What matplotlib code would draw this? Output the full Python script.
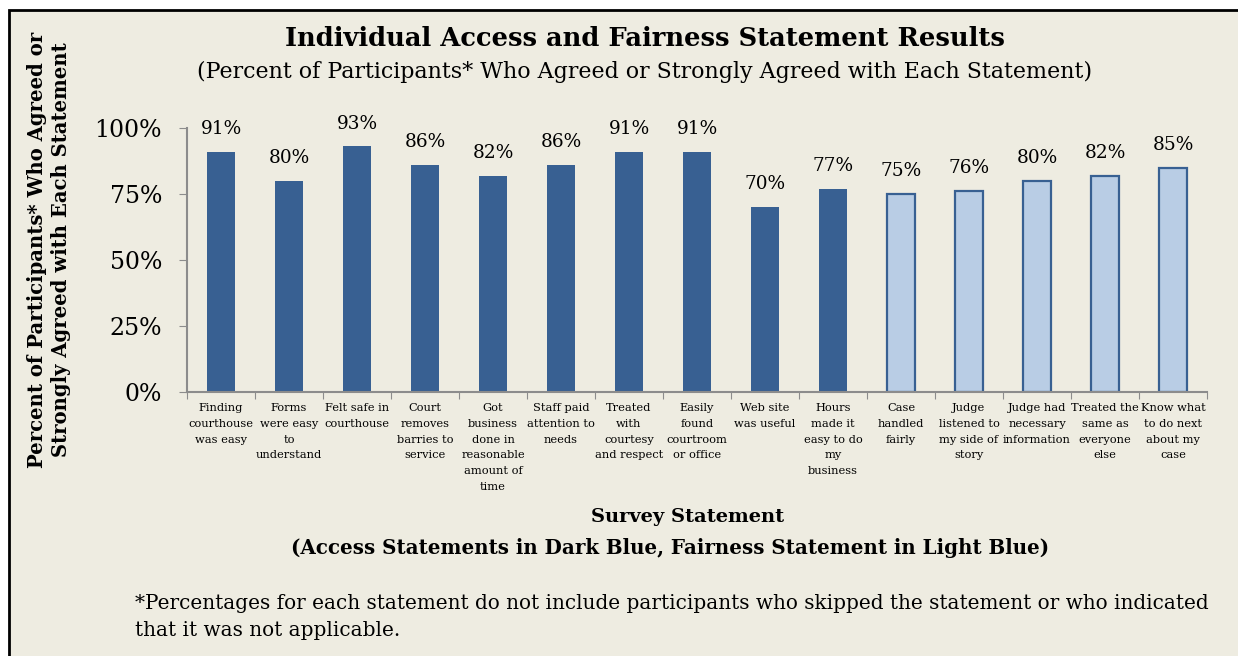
import matplotlib.pyplot as plt
from matplotlib.patches import Rectangle

# --- data --- #
statements = [
    "Finding\ncourthouse\nwas easy",
    "Forms\nwere easy\nto\nunderstand",
    "Felt safe in\ncourthouse",
    "Court\nremoves\nbarries to\nservice",
    "Got\nbusiness\ndone in\nreasonable\namount of\ntime",
    "Staff paid\nattention to\nneeds",
    "Treated\nwith\ncourtesy\nand respect",
    "Easily\nfound\ncourtroom\nor office",
    "Web site\nwas useful",
    "Hours\nmade it\neasy to do\nmy\nbusiness",
    "Case\nhandled\nfairly",
    "Judge\nlistened to\nmy side of\nstory",
    "Judge had\nnecessary\ninformation",
    "Treated the\nsame as\neveryone\nelse",
    "Know what\nto do next\nabout my\ncase",
]
percent_agreed = [91, 80, 93, 86, 82, 86, 91, 91, 70, 77, 75, 76, 80, 82, 85]
statement_group = ["access"] * 10 + ["fairness"] * 5
y_ticks = [0, 25, 50, 75, 100]

W, H = 1238, 656
dark_blue = "#386092"
light_blue = "#B9CDE5"
bg = "#EEECE1"
axis_grey = "#8C8C8C"

plt.rcParams["font.family"] = ["DejaVu Serif"]

fig = plt.figure(figsize=(W / 100, H / 100), dpi=100, facecolor="white")

# beige box with black border on the left and top (rest is cropped)
fig.patches.append(Rectangle((9 / W, -0.1), 1.2, (H - 10) / H + 0.1, transform=fig.transFigure,
                             facecolor=bg, edgecolor="black", linewidth=2, zorder=-5))

ax = fig.add_axes([187 / W, 1 - 392 / H, (1207 - 187) / W, (392 - 128) / H])
ax.set_facecolor("none")
ax.set_zorder(2)

x = list(range(len(percent_agreed)))
for i, (v, g) in enumerate(zip(percent_agreed, statement_group)):
    if g == "access":
        ax.bar(i, v, width=0.4, color=dark_blue, edgecolor=dark_blue, linewidth=0)
    else:
        ax.bar(i, v, width=0.4, color=light_blue, edgecolor=dark_blue, linewidth=1.6)
    ax.annotate(f"{v}%", (i, v), xytext=(0, 10), textcoords="offset points",
                ha="center", va="bottom", fontsize=13.3)

ax.set_xlim(-0.5, len(percent_agreed) - 0.5)
ax.set_ylim(0, 100)
ax.set_yticks(y_ticks, [f"{t}%" for t in y_ticks], fontsize=17)
ax.set_xticks([i - 0.5 for i in range(len(x) + 1)])
ax.set_xticklabels([])
ax.set_xticks(x, statements, minor=True, fontsize=8.2, linespacing=1.72, va="top")
ax.tick_params(axis="x", which="minor", length=0, pad=8)
ax.tick_params(axis="x", which="major", length=5, color=axis_grey, direction="out")
ax.tick_params(axis="y", length=6, color=axis_grey, pad=12)

for side in ["top", "right"]:
    ax.spines[side].set_visible(False)
for side in ["left", "bottom"]:
    ax.spines[side].set_color(axis_grey)
    ax.spines[side].set_linewidth(1.5)

# titles and labels
fig.text(645 / W, 1 - 38 / H, "Individual Access and Fairness Statement Results",
         ha="center", va="center", fontsize=18.5, fontweight="bold")
fig.text(645 / W, 1 - 72 / H,
         "(Percent of Participants* Who Agreed or Strongly Agreed with Each Statement)",
         ha="center", va="center", fontsize=15.9)
fig.text(49 / W, 1 - 250 / H,
         "Percent of Participants* Who Agreed or\nStrongly Agreed with Each Statement",
         ha="center", va="center", rotation=90, fontsize=14.1, fontweight="bold", linespacing=1.3)
fig.text(688 / W, 1 - 517 / H, "Survey Statement",
         ha="center", va="center", fontsize=14, fontweight="bold")
fig.text(670 / W, 1 - 548 / H,
         "(Access Statements in Dark Blue, Fairness Statement in Light Blue)",
         ha="center", va="center", fontsize=14.35, fontweight="bold")
fig.text(135 / W, 1 - 617 / H,
         "*Percentages for each statement do not include participants who skipped the statement or who indicated\n"
         "that it was not applicable.",
         ha="left", va="center", fontsize=14.45, linespacing=1.55)

fig.savefig("out.png", dpi=100, facecolor=fig.get_facecolor())
